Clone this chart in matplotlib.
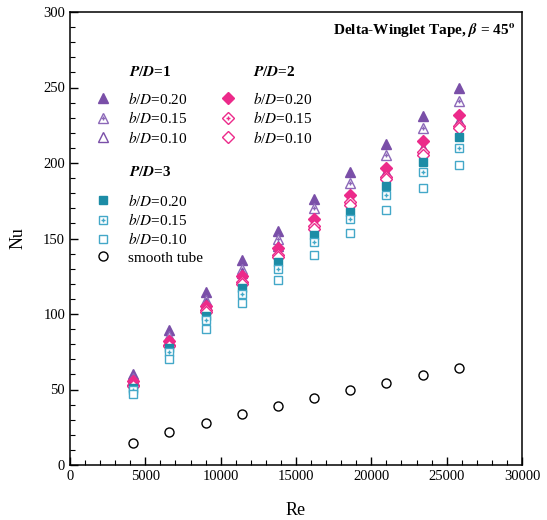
import matplotlib
matplotlib.use("Agg")
import matplotlib.pyplot as plt
from matplotlib.ticker import MultipleLocator
from matplotlib.legend_handler import HandlerTuple

plt.rcParams['font.family'] = ['Liberation Serif', 'DejaVu Serif']
plt.rcParams['mathtext.fontset'] = 'stix'

# Reynolds numbers (shared by all series)
re = [4200, 6600, 9000, 11400, 13800, 16200, 18600, 21000, 23400, 25800]

# P/D = 1
nu_pd1_020 = [60.4, 89.2, 114.4, 135.5, 155.0, 176.0, 194.0, 212.5, 231.0, 249.7]
nu_pd1_015 = [57.8, 85.2, 109.6, 130.0, 149.4, 170.0, 186.6, 205.0, 223.0, 241.0]
nu_pd1_010 = [56.0, 83.0, 107.0, 127.0, 145.0, 160.0, 177.0, 194.0, 210.0, 228.0]

# P/D = 2
nu_pd2_020 = [55.3, 81.9, 105.6, 125.0, 144.0, 162.7, 178.8, 197.0, 214.5, 232.0]
nu_pd2_015 = [53.1, 79.2, 102.5, 121.0, 139.0, 158.0, 174.0, 191.0, 207.0, 224.6]
nu_pd2_010 = [52.5, 78.5, 101.5, 120.0, 138.0, 156.5, 172.0, 189.5, 205.5, 223.0]

# P/D = 3
nu_pd3_020 = [51.3, 77.7, 99.0, 117.5, 134.4, 152.0, 167.5, 184.6, 200.7, 217.0]
nu_pd3_015 = [49.8, 74.6, 95.8, 113.5, 130.0, 147.6, 162.6, 178.6, 194.0, 210.0]
nu_pd3_010 = [46.9, 70.2, 90.3, 107.6, 122.8, 139.4, 153.4, 168.6, 183.5, 198.5]

# smooth tube
nu_smooth = [14.4, 21.7, 28.1, 33.7, 39.0, 44.5, 49.5, 54.5, 59.5, 64.5]

purple = '#7A4FA8'
purple_l = '#8C68B8'
pink = '#EC2A8A'
teal = '#1C8CA6'
teal_l = '#43A8C8'

fig = plt.figure(figsize=(5.47, 5.20), dpi=100)
ax = fig.add_axes([70 / 547, 55 / 520, 452 / 547, 453 / 520])


def series(y, marker, color, fill, ms, dot=False):
    h = ax.plot(re, y, linestyle='none', marker=marker, ms=ms,
                mfc=color if fill else 'white', mec=color, mew=1.0)[0]
    if not dot:
        return h
    d = ax.plot(re, y, linestyle='none', marker='+', ms=ms * 0.45,
                mec=color, mew=1.0)[0]
    return (h, d)


h11 = series(nu_pd1_020, '^', purple, True, 7.2)
h12 = series(nu_pd1_015, '^', purple_l, False, 7.2, dot=True)
h13 = series(nu_pd1_010, '^', purple, False, 7.2)
h21 = series(nu_pd2_020, 'D', pink, True, 5.8)
h22 = series(nu_pd2_015, 'D', pink, False, 5.8, dot=True)
h23 = series(nu_pd2_010, 'D', pink, False, 5.8)
h31 = series(nu_pd3_020, 's', teal, True, 5.8)
h32 = series(nu_pd3_015, 's', teal_l, False, 5.8, dot=True)
h33 = series(nu_pd3_010, 's', teal_l, False, 5.8)
h4 = ax.plot(re, nu_smooth, linestyle='none', marker='o', ms=6.5,
             mfc='white', mec='black', mew=1.0)[0]

labels = [r'$b$/$D$=0.20', r'$b$/$D$=0.15', r'$b$/$D$=0.10']

leg_kw = dict(frameon=False, fontsize=11, handletextpad=0.9, labelspacing=0.22,
              handlelength=1.4, borderpad=0, borderaxespad=0,
              handler_map={tuple: HandlerTuple(ndivide=1, pad=0)}, loc='upper left')

leg1 = ax.legend([h11, h12, h13], labels, bbox_to_anchor=(0.05, 0.826), **leg_kw)
ax.add_artist(leg1)
leg2 = ax.legend([h21, h22, h23], labels, bbox_to_anchor=(0.327, 0.826), **leg_kw)
ax.add_artist(leg2)
ax.legend([h31, h32, h33, h4], labels + ['smooth tube'],
          bbox_to_anchor=(0.05, 0.601), **leg_kw)

hdr = dict(transform=ax.transAxes, fontsize=11, fontweight='bold', va='center', ha='left')
ax.text(0.13, 0.868, r'$\mathbfit{P}$/$\mathbfit{D}$=1', **hdr)
ax.text(0.405, 0.868, r'$\mathbfit{P}$/$\mathbfit{D}$=2', **hdr)
ax.text(0.13, 0.647, r'$\mathbfit{P}$/$\mathbfit{D}$=3', **hdr)

ax.text(0.985, 0.96, r'Delta-Winglet Tape, $\mathbfit{\beta}$ = 45$^{\mathbf{o}}$',
        transform=ax.transAxes, fontsize=11, fontweight='bold', ha='right', va='center')

ax.set_xlim(0, 30000)
ax.set_ylim(0, 300)
ax.xaxis.set_major_locator(MultipleLocator(5000))
ax.xaxis.set_minor_locator(MultipleLocator(1000))
ax.yaxis.set_major_locator(MultipleLocator(50))
ax.yaxis.set_minor_locator(MultipleLocator(10))
ax.tick_params(which='both', direction='in', top=False, right=False, labelsize=10.5)
ax.tick_params(which='major', length=6, width=1)
ax.tick_params(which='minor', length=3.5, width=0.8)
for s in ax.spines.values():
    s.set_linewidth(1.1)

ax.set_xlabel('Re', fontsize=13, labelpad=14)
ax.set_ylabel('Nu', fontsize=13, labelpad=12)

fig.savefig('out.png', dpi=100)
